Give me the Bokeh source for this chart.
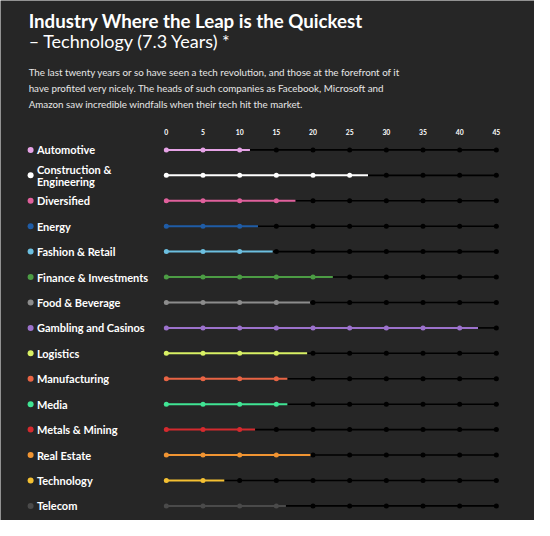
from bokeh.plotting import figure
from bokeh.models import Range1d
from bokeh.core.properties import value
from bokeh.embed import file_html
from bokeh.resources import INLINE

# ---- data ----
categories = ["Automotive", "Construction &\nEngineering", "Diversified", "Energy",
              "Fashion & Retail", "Finance & Investments", "Food & Beverage",
              "Gambling and Casinos", "Logistics", "Manufacturing", "Media",
              "Metals & Mining", "Real Estate", "Technology", "Telecom"]
years = [11.4, 27.5, 17.6, 12.5, 14.5, 22.7, 19.6, 42.5, 19.2, 16.5, 16.5, 12.1, 19.7, 7.9, 16.3]
colors = ["#e6a3e6", "#ffffff", "#e0609c", "#1f5ca6", "#6cbfe0", "#4c9c44", "#8c8c8c",
          "#9c72cc", "#d8f064", "#e86444", "#40e494", "#d42a2e", "#f09432", "#f4c032", "#4a4a4a"]
ticks = [0, 5, 10, 15, 20, 25, 30, 35, 40, 45]
tick_labels = [str(t) for t in ticks]
title = "Industry Where the Leap is the Quickest"
subtitle = "\u2013 Technology (7.3 Years) *"
desc_lines = ["The last twenty years or so have seen a tech revolution, and those at the forefront of it",
              "have profited very nicely. The heads of such companies as Facebook, Microsoft and",
              "Amazon saw incredible windfalls when their tech hit the market."]

W, H = 534, 520
BG = "#262626"
FONT = "Lato"

# layout geometry (reference pixel positions scaled into the canvas)
SX, SY = W / 550.0, H / 536.0
X0_PX = 170.8 * SX
PPU = (510.7 - 170.8) * SX / 45.0
ROW0_PX = 154 * SY
ROW_STEP = 26.21 * SY

def X(px):
    return (px * SX - X0_PX) / PPU

def Y(px):
    return (px * SY - ROW0_PX) / ROW_STEP

p = figure(width=W, height=H, output_backend="svg", toolbar_location=None,
           x_range=Range1d(-X0_PX / PPU, (W - X0_PX) / PPU),
           y_range=Range1d((H - ROW0_PX) / ROW_STEP, -ROW0_PX / ROW_STEP),
           min_border=0, background_fill_color=BG, border_fill_color=BG)
p.axis.visible = False
p.grid.visible = False
p.outline_line_color = None

n = len(categories)
rows = list(range(n))
xmax = ticks[-1]

# black remainder lines
p.segment(x0=years, y0=rows, x1=[xmax] * n, y1=rows, line_color="#000000", line_width=1.6)
# colored lines
p.segment(x0=[0] * n, y0=rows, x1=years, y1=rows, line_color=colors, line_width=2)

# dots at every tick
dx, dy, dc = [], [], []
for i, (v, c) in enumerate(zip(years, colors)):
    for t in ticks:
        dx.append(t)
        dy.append(i)
        dc.append(c if t < v else "#000000")
p.scatter(x=dx, y=dy, size=5, fill_color=dc, line_color=None)

# tick labels
p.text(x=ticks, y=[Y(136)] * len(ticks), text=tick_labels, text_color="#ffffff",
       text_font=value(FONT), text_font_style="bold", text_font_size="6.8px",
       text_align="center", text_baseline="middle")

# category legend dots and labels
p.scatter(x=[X(31)] * n, y=rows, size=6, fill_color=colors, line_color=None)
p.text(x=[X(37.5)] * n, y=rows, text=categories, text_color="#ffffff",
       text_font=value(FONT), text_font_style="bold", text_font_size="11px",
       text_align="left", text_baseline="middle", text_line_height=0.95)

# title, subtitle, description
p.text(x=[X(29)], y=[Y(21)], text=[title], text_color="#ffffff", text_font=value(FONT),
       text_font_style="bold", text_font_size="18.7px", text_baseline="middle")
p.text(x=[X(29)], y=[Y(42)], text=[subtitle], text_color="#ffffff", text_font=value(FONT),
       text_font_style="normal", text_font_size="18px", text_baseline="middle")
p.text(x=[X(29)] * 3, y=[Y(74), Y(90.5), Y(107)], text=desc_lines, text_color="#e6e6e6",
       text_font=value(FONT), text_font_size="9.8px", text_baseline="middle")

open("out.html", "w").write(file_html(p, INLINE))
